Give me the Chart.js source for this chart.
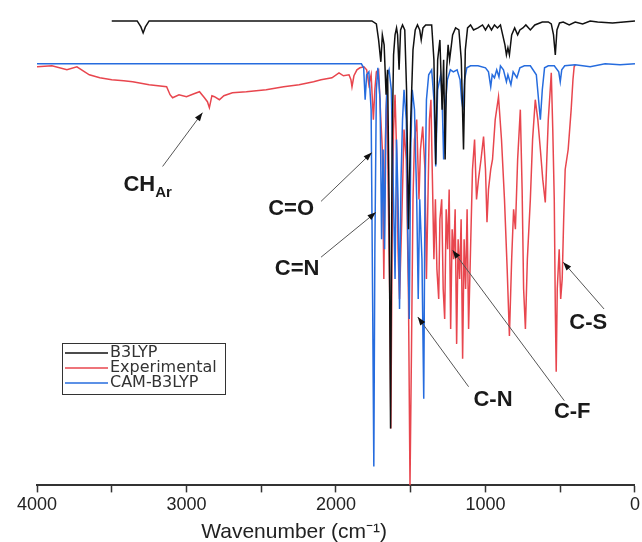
<!DOCTYPE html>
<html>
<head>
<meta charset="utf-8">
<script src="https://cdn.jsdelivr.net/npm/chart.js@4.4.1/dist/chart.umd.min.js"></script>
<style>
  html, body { margin: 0; padding: 0; background: #fff; }
  #wrap { width: 642px; height: 542px; position: relative; }
</style>
</head>
<body>
<div id="wrap"><canvas id="irChart"></canvas></div>
<script>
// IR spectra, [wavenumber (cm-1), offset absorbance (a.u., grows downward)]
const b3lyp = [
  [3500,11],[3330,11],[3305,17],[3290,23],[3275,17],[3250,11],
  [1760,11],[1730,14],[1715,30],[1700,52],[1690,25],[1678,35],[1665,85],[1655,60],[1645,190],[1635,420],
  [1625,140],[1615,45],[1605,25],[1595,18],[1588,25],[1578,60],[1568,20],[1555,15],[1540,20],[1528,80],
  [1515,220],[1500,110],[1485,40],[1470,20],[1455,15],[1440,20],[1430,30],[1418,18],[1400,15],[1360,15],
  [1345,50],[1333,155],[1320,50],[1305,30],[1290,100],[1280,50],[1270,150],[1260,60],[1250,35],[1240,50],
  [1220,25],[1200,18],[1178,20],[1162,50],[1147,140],[1135,40],[1120,18],[1100,15],[1080,20],[1050,18],
  [1020,15],[1000,20],[980,15],[960,20],[940,15],[920,18],[900,15],[885,25],[870,35],[860,45],
  [850,38],[840,45],[825,25],[805,18],[785,25],[770,20],[750,18],[730,15],[700,20],[670,15],
  [620,12],[580,12],[560,14],[545,25],[533,45],[522,20],[505,13],[480,12],[440,15],[400,12],
  [350,14],[300,11],[250,12],[150,13],[0,11]
];

const experimental = [
  [4000,57],[3900,56],[3800,60],[3733,57],[3650,65],[3580,68],[3500,70],[3420,71],[3360,72],[3250,75],
  [3133,77],[3110,85],[3093,88],[3050,85],[3000,87],[2950,84],[2913,82],[2880,88],[2860,92],[2847,98],
  [2830,86],[2813,87],[2780,90],[2750,86],[2693,83],[2600,82],[2467,80],[2350,77],[2247,75],[2150,72],
  [2100,70],[2027,68],[1980,63],[1950,66],[1913,65],[1900,70],[1893,77],[1880,66],[1860,60],[1840,58],
  [1813,57],[1795,60],[1780,75],[1765,65],[1750,110],[1740,80],[1730,62],[1715,60],[1700,110],[1690,140],
  [1680,270],[1670,130],[1660,80],[1650,190],[1640,290],[1633,420],[1625,240],[1615,120],[1605,85],[1595,140],
  [1585,240],[1575,290],[1560,210],[1545,120],[1530,150],[1515,290],[1505,477],[1495,340],[1485,190],[1475,130],
  [1460,110],[1445,190],[1435,140],[1420,117],[1405,160],[1395,270],[1385,190],[1375,110],[1365,90],[1355,170],
  [1345,250],[1335,190],[1325,260],[1313,290],[1305,210],[1293,190],[1283,280],[1273,310],[1263,200],[1253,240],
  [1243,180],[1233,320],[1223,220],[1213,250],[1203,200],[1193,335],[1183,230],[1173,270],[1163,210],[1153,350],
  [1143,230],[1133,280],[1123,200],[1113,320],[1100,240],[1087,160],[1073,130],[1060,190],[1047,170],[1030,150],
  [1013,127],[1000,160],[990,213],[980,180],[965,160],[953,150],[935,110],[913,87],[893,130],[873,190],
  [855,260],[840,327],[825,250],[812,200],[800,220],[785,150],[767,100],[755,180],[745,280],[733,320],
  [720,250],[700,190],[685,130],[667,90],[650,110],[633,140],[617,170],[600,193],[590,150],[580,110],
  [567,80],[560,63],[550,120],[540,190],[533,300],[527,363],[520,280],[507,240],[497,290],[487,270],
  [477,210],[467,160],[447,140],[437,120],[427,100],[415,70],[407,57],[400,55]
];

const camB3lyp = [
  [4000,54],[1830,54],[1815,58],[1805,90],[1795,65],[1780,62],[1765,100],[1755,290],[1747,458],[1740,240],
  [1730,80],[1720,58],[1705,90],[1695,230],[1685,140],[1675,240],[1665,100],[1655,65],[1645,60],[1630,80],
  [1615,190],[1605,270],[1595,130],[1585,190],[1575,300],[1565,170],[1555,110],[1545,80],[1530,110],[1520,220],
  [1510,310],[1500,140],[1490,80],[1475,100],[1460,190],[1450,290],[1440,190],[1425,250],[1413,390],[1405,190],
  [1395,90],[1380,65],[1360,60],[1345,90],[1333,157],[1320,80],[1300,65],[1290,90],[1280,150],[1270,100],
  [1255,70],[1235,60],[1215,62],[1190,60],[1170,70],[1160,90],[1150,100],[1140,70],[1125,58],[1100,56],
  [1050,56],[1000,58],[980,62],[965,77],[955,65],[940,68],[925,60],[910,67],[900,56],[880,60],
  [860,72],[850,65],[830,75],[815,62],[790,68],[770,58],[740,56],[700,56],[660,65],[645,90],
  [633,110],[620,80],[605,58],[580,56],[540,56],[510,62],[500,72],[490,60],[470,56],[400,55],
  [300,57],[200,54],[100,55],[0,54]
];

const seriesNames = ['B3LYP', 'Experimental', 'CAM-B3LYP'];
const seriesColors = ['#111111', 'rgb(232, 70, 78)', 'rgb(38, 108, 222)'];
const tickValues = [4000, 3000, 2000, 1000, 0];
const axisTitle = 'Wavenumber (cm\u207B\u00B9)';

// band labels: text, label centre, line start, arrow tip (all in wavenumber / a.u.)
const bands = [
  { text: 'CH', sub: 'Ar', at: [3260, 176], from: [3160, 157], to: [2893, 103] },
  { text: 'C=O', at: [2300, 200], from: [2100, 192], to: [1760, 143] },
  { text: 'C=N', at: [2260, 260], from: [2100, 248], to: [1733, 203] },
  { text: 'C-N', at: [950, 391], from: [1113, 378], to: [1453, 308] },
  { text: 'C-F', at: [420, 403], from: [473, 392], to: [1220, 241] },
  { text: 'C-S', at: [313, 314], from: [207, 300], to: [480, 253] }
];

const toXY = arr => arr.map(p => ({ x: p[0], y: p[1] }));
const labelFont = 'bold 22px "Liberation Sans", Arial, sans-serif';
const subFont = 'bold 15px "Liberation Sans", Arial, sans-serif';

const bandLabels = {
  id: 'bandLabels',
  afterDatasetsDraw(chart) {
    const { ctx, scales: { x, y } } = chart;
    ctx.save();
    bands.forEach(b => {
      const x0 = x.getPixelForValue(b.from[0]), y0 = y.getPixelForValue(b.from[1]);
      const x1 = x.getPixelForValue(b.to[0]), y1 = y.getPixelForValue(b.to[1]);
      ctx.strokeStyle = '#555';
      ctx.lineWidth = 1;
      ctx.beginPath();
      ctx.moveTo(x0, y0);
      ctx.lineTo(x1, y1);
      ctx.stroke();
      // arrow head
      const ang = Math.atan2(y1 - y0, x1 - x0);
      ctx.fillStyle = '#111';
      ctx.beginPath();
      ctx.moveTo(x1, y1);
      ctx.lineTo(x1 - 9 * Math.cos(ang - 0.35), y1 - 9 * Math.sin(ang - 0.35));
      ctx.lineTo(x1 - 9 * Math.cos(ang + 0.35), y1 - 9 * Math.sin(ang + 0.35));
      ctx.closePath();
      ctx.fill();

      const cx = x.getPixelForValue(b.at[0]), cy = y.getPixelForValue(b.at[1]);
      ctx.fillStyle = '#1a1a1a';
      ctx.textBaseline = 'middle';
      ctx.font = labelFont;
      if (b.sub) {
        const w = ctx.measureText(b.text).width;
        ctx.font = subFont;
        const ws = ctx.measureText(b.sub).width;
        const left = cx - (w + ws) / 2;
        ctx.font = labelFont;
        ctx.textAlign = 'left';
        ctx.fillText(b.text, left, cy);
        ctx.font = subFont;
        ctx.fillText(b.sub, left + w, cy + 7);
      } else {
        ctx.textAlign = 'center';
        ctx.fillText(b.text, cx, cy);
      }
    });
    ctx.restore();
  }
};

const boxLegend = {
  id: 'boxLegend',
  afterDraw(chart) {
    const ctx = chart.ctx;
    const left = 62, top = 343, width = 163, rowH = 15;
    const sets = chart.data.datasets;
    ctx.save();
    ctx.fillStyle = '#fff';
    ctx.fillRect(left, top, width, rowH * sets.length + 6);
    ctx.strokeStyle = '#333';
    ctx.lineWidth = 1;
    ctx.strokeRect(left + 0.5, top + 0.5, width, rowH * sets.length + 6);
    ctx.font = '16px "DejaVu Sans", sans-serif';
    ctx.textBaseline = 'middle';
    ctx.textAlign = 'left';
    sets.forEach((ds, i) => {
      const yy = top + 10 + i * rowH;
      ctx.strokeStyle = ds.borderColor;
      ctx.lineWidth = 1.3;
      ctx.beginPath();
      ctx.moveTo(left + 3, yy);
      ctx.lineTo(left + 46, yy);
      ctx.stroke();
      ctx.fillStyle = '#333';
      ctx.fillText(ds.label, left + 48, yy);
    });
    ctx.restore();
  }
};

// axis title sits left of centre in the original figure
const axisTitlePlugin = {
  id: 'axisTitlePlugin',
  afterDraw(chart) {
    const { ctx, scales: { x } } = chart;
    ctx.save();
    ctx.font = '21px "Liberation Sans", Arial, sans-serif';
    ctx.fillStyle = '#222';
    ctx.textAlign = 'center';
    ctx.textBaseline = 'middle';
    ctx.fillText(axisTitle, x.getPixelForValue(2280), 532);
    ctx.restore();
  }
};

const spectra = [b3lyp, experimental, camB3lyp];

new Chart(document.getElementById('irChart'), {
  type: 'line',
  data: {
    datasets: spectra.map((s, i) => ({
      label: seriesNames[i],
      data: toXY(s),
      borderColor: seriesColors[i],
      borderWidth: 1.5,
      pointRadius: 0,
      tension: 0,
      fill: false,
      order: [1, 3, 2][i]
    }))
  },
  options: {
    responsive: true,
    maintainAspectRatio: false,
    animation: false,
    layout: { padding: { left: 37, right: 5, top: 10, bottom: 24 } },
    plugins: {
      legend: { display: false },
      tooltip: { enabled: false }
    },
    scales: {
      x: {
        type: 'linear',
        reverse: true,
        min: 0,
        max: 4000,
        afterBuildTicks: axis => {
          const t = [];
          for (let v = 4000; v >= 0; v -= 500) t.push({ value: v });
          axis.ticks = t;
        },
        ticks: {
          autoSkip: false,
          maxRotation: 0,
          padding: 2,
          color: '#222',
          font: { family: '"Liberation Sans", Arial, sans-serif', size: 18 },
          callback: v => tickValues.includes(v) ? String(v) : ''
        },
        grid: {
          drawOnChartArea: false,
          drawTicks: true,
          tickLength: 7,
          tickColor: '#333',
          tickWidth: 1.5
        },
        border: { display: true, color: '#333', width: 2 },
        title: { display: false }
      },
      y: {
        display: false,
        reverse: true,
        min: 0,
        max: 477
      }
    }
  },
  plugins: [bandLabels, boxLegend, axisTitlePlugin]
});
</script>
</body>
</html>
